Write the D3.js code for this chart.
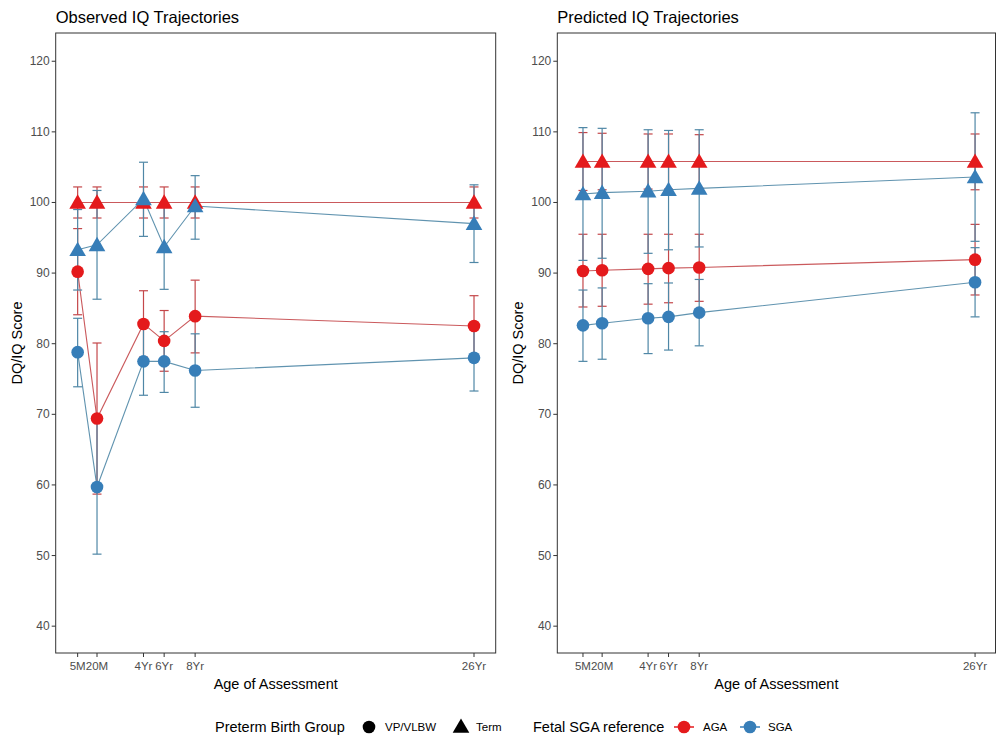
<!DOCTYPE html>
<html>
<head>
<meta charset="utf-8">
<script src="https://cdnjs.cloudflare.com/ajax/libs/d3/7.8.5/d3.min.js"></script>
<style>
  body { margin: 0; background: #fff; }
  text { font-family: "Liberation Sans", Arial, sans-serif; }
</style>
</head>
<body>
<svg id="chart"></svg>
<script>
var width = 997, height = 741;
var svg = d3.select("#chart").attr("width", width).attr("height", height);

// ages (in months) and their tick labels
var ageLabels = ["5M", "20M", "4Yr", "6Yr", "8Yr", "26Yr"];
var ageMonths = [5, 20, 56, 72, 96, 312];

// observed means and error bar limits
var obsVpAga   = [90.2, 69.4, 82.8, 80.4, 83.9, 82.5];
var obsVpAgaLo = [84.1, 58.7, 78.1, 76.1, 78.7, 78.2];
var obsVpAgaHi = [96.3, 80.1, 87.5, 84.7, 89.0, 86.8];
var obsVpSga   = [78.8, 59.7, 77.5, 77.5, 76.2, 78.0];
var obsVpSgaLo = [73.9, 50.2, 72.7, 73.1, 71.0, 73.3];
var obsVpSgaHi = [83.6, 69.2, 82.3, 81.7, 81.4, 82.7];
var obsTermAga   = [100, 100, 100, 100, 100, 100];
var obsTermAgaLo = [97.8, 97.8, 97.8, 97.8, 97.8, 97.8];
var obsTermAgaHi = [102.2, 102.2, 102.2, 102.2, 102.2, 102.2];
var obsTermSga   = [93.3, 94.0, 100.5, 93.7, 99.5, 97.0];
var obsTermSgaLo = [87.6, 86.3, 95.2, 87.7, 94.8, 91.5];
var obsTermSgaHi = [99.0, 101.7, 105.7, 99.7, 103.8, 102.5];

// predicted means and error bar limits
var predVpAga   = [90.3, 90.4, 90.6, 90.7, 90.8, 91.9];
var predVpAgaLo = [85.2, 85.3, 85.6, 85.8, 86.0, 86.9];
var predVpAgaHi = [95.5, 95.5, 95.5, 95.5, 95.5, 96.9];
var predVpSga   = [82.6, 82.9, 83.6, 83.8, 84.4, 88.7];
var predVpSgaLo = [77.5, 77.8, 78.6, 79.1, 79.7, 83.8];
var predVpSgaHi = [87.6, 87.9, 88.5, 88.6, 89.1, 93.6];
var predTermAga   = [105.8, 105.8, 105.8, 105.8, 105.8, 105.8];
var predTermAgaLo = [101.7, 101.8, 101.9, 101.9, 102.0, 101.8];
var predTermAgaHi = [109.9, 109.8, 109.7, 109.7, 109.6, 109.7];
var predTermSga   = [101.2, 101.4, 101.6, 101.8, 102.0, 103.6];
var predTermSgaLo = [91.8, 92.1, 92.8, 93.3, 93.7, 94.5];
var predTermSgaHi = [110.6, 110.5, 110.3, 110.2, 110.3, 112.7];

var yTicks = [40, 50, 60, 70, 80, 90, 100, 110, 120];

var pointCol = { AGA: "#E41A1C", SGA: "#377EB8" };
var lineCol = { AGA: "#c4474a", SGA: "#4f87a6" };

function makeSeries(v, lo, hi, shape, fetal) {
  return { shape: shape, fetal: fetal, pts: v.map(function (d, i) {
    return { x: ageMonths[i], y: d, lo: lo[i], hi: hi[i] };
  }) };
}

var observed = [
  makeSeries(obsVpAga, obsVpAgaLo, obsVpAgaHi, "circle", "AGA"),
  makeSeries(obsTermAga, obsTermAgaLo, obsTermAgaHi, "triangle", "AGA"),
  makeSeries(obsVpSga, obsVpSgaLo, obsVpSgaHi, "circle", "SGA"),
  makeSeries(obsTermSga, obsTermSgaLo, obsTermSgaHi, "triangle", "SGA")
];
var predicted = [
  makeSeries(predVpAga, predVpAgaLo, predVpAgaHi, "circle", "AGA"),
  makeSeries(predTermAga, predTermAgaLo, predTermAgaHi, "triangle", "AGA"),
  makeSeries(predVpSga, predVpSgaLo, predVpSgaHi, "circle", "SGA"),
  makeSeries(predTermSga, predTermSgaLo, predTermSgaHi, "triangle", "SGA")
];

var symCircle = d3.symbol().type(d3.symbolCircle).size(125);
var symTri = d3.symbol().type(d3.symbolTriangle).size(120);

function drawPanel(left, right, xDomain, title, series) {
  var top = 33, bottom = 653;
  var x = d3.scaleLinear().domain(xDomain).range([left, right]);
  var y = d3.scaleLinear().domain([36.2, 124.0]).range([bottom, top]);
  var g = svg.append("g");

  g.append("text").attr("x", left).attr("y", 23)
    .attr("font-size", 16.5).attr("fill", "#000").text(title);

  // y axis
  var ya = g.append("g");
  yTicks.forEach(function (t) {
    ya.append("line").attr("x1", left - 4).attr("x2", left)
      .attr("y1", y(t)).attr("y2", y(t)).attr("stroke", "#333");
    ya.append("text").attr("x", left - 6).attr("y", y(t) + 4)
      .attr("text-anchor", "end").attr("font-size", 12).attr("fill", "#4d4d4d").text(t);
  });
  // x axis
  ageMonths.forEach(function (m, i) {
    g.append("line").attr("x1", x(m)).attr("x2", x(m))
      .attr("y1", bottom).attr("y2", bottom + 4).attr("stroke", "#333");
    g.append("text").attr("x", x(m)).attr("y", bottom + 17)
      .attr("text-anchor", "middle").attr("font-size", 11.5).attr("fill", "#4d4d4d")
      .text(ageLabels[i]);
  });
  g.append("text").attr("x", (left + right) / 2).attr("y", 689)
    .attr("text-anchor", "middle").attr("font-size", 14.5).text("Age of Assessment");
  g.append("text").attr("transform", "translate(" + (left - 34) + "," + ((top + bottom) / 2) + ") rotate(-90)")
    .attr("text-anchor", "middle").attr("font-size", 14.5).text("DQ/IQ Score");

  var line = d3.line().x(function (d) { return x(d.x); }).y(function (d) { return y(d.y); });

  series.forEach(function (s) {
    g.append("path").attr("d", line(s.pts)).attr("fill", "none")
      .attr("stroke", lineCol[s.fetal]).attr("stroke-width", 1.1).attr("stroke-opacity", 0.9);
  });
  series.forEach(function (s) {
    var eb = g.append("g").attr("stroke", lineCol[s.fetal]).attr("stroke-width", 1.2);
    eb.selectAll("line.v").data(s.pts).enter().append("line")
      .attr("x1", function (d) { return x(d.x); }).attr("x2", function (d) { return x(d.x); })
      .attr("y1", function (d) { return y(d.lo); }).attr("y2", function (d) { return y(d.hi); });
    ["lo", "hi"].forEach(function (k) {
      eb.selectAll("line." + k).data(s.pts).enter().append("line")
        .attr("x1", function (d) { return x(d.x) - 4.5; }).attr("x2", function (d) { return x(d.x) + 4.5; })
        .attr("y1", function (d) { return y(d[k]); }).attr("y2", function (d) { return y(d[k]); });
    });
  });
  series.forEach(function (s) {
    g.selectAll(null).data(s.pts).enter().append("path")
      .attr("d", s.shape == "circle" ? symCircle : symTri)
      .attr("transform", function (d) {
        return "translate(" + x(d.x) + "," + (y(d.y) + (s.shape == "circle" ? 0 : 1.5)) + ")";
      })
      .attr("fill", pointCol[s.fetal]);
  });

  g.append("rect").attr("x", left).attr("y", top).attr("width", right - left)
    .attr("height", bottom - top).attr("fill", "none").attr("stroke", "#333").attr("stroke-width", 1);
}

drawPanel(55.7, 495.7, [-12.0, 328.8], "Observed IQ Trajectories", observed);
drawPanel(557.3, 995.5, [-15.1, 328.0], "Predicted IQ Trajectories", predicted);

// legend
var lg = svg.append("g");
var ly = 727;
lg.append("text").attr("x", 215).attr("y", ly + 5).attr("font-size", 14.5).text("Preterm Birth Group");
lg.append("path").attr("d", symCircle).attr("transform", "translate(369," + ly + ")").attr("fill", "#000");
lg.append("text").attr("x", 385).attr("y", ly + 4).attr("font-size", 11.5).text("VP/VLBW");
lg.append("path").attr("d", symTri).attr("transform", "translate(461," + (ly + 1) + ")").attr("fill", "#000");
lg.append("text").attr("x", 476).attr("y", ly + 4).attr("font-size", 11.5).text("Term");
lg.append("text").attr("x", 533).attr("y", ly + 5).attr("font-size", 14.5).text("Fetal SGA reference");
[["AGA", 684, 703], ["SGA", 750, 768]].forEach(function (d) {
  lg.append("line").attr("x1", d[1] - 10).attr("x2", d[1] + 10).attr("y1", ly).attr("y2", ly)
    .attr("stroke", pointCol[d[0]]).attr("stroke-width", 1.5);
  lg.append("path").attr("d", symCircle).attr("transform", "translate(" + d[1] + "," + ly + ")")
    .attr("fill", pointCol[d[0]]);
  lg.append("text").attr("x", d[2]).attr("y", ly + 4).attr("font-size", 11.5).text(d[0]);
});
</script>
</body>
</html>
